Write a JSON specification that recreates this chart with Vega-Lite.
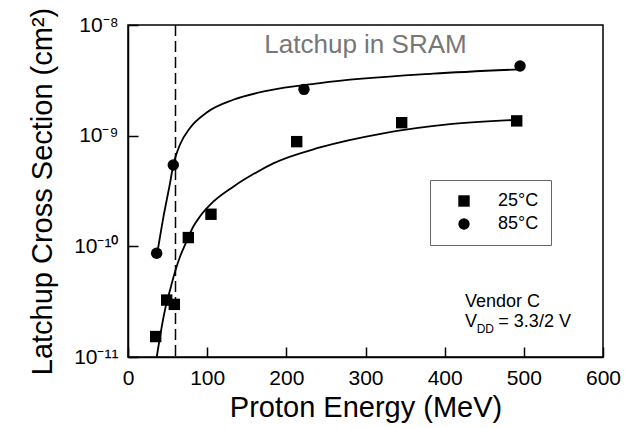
{
  "$schema": "https://vega.github.io/schema/vega-lite/v6.json",
  "width": 475,
  "height": 332,
  "autosize": {"type": "none"},
  "padding": {"left": 128, "top": 25, "right": 30, "bottom": 71},
  "background": "white",
  "config": {
    "font": "Liberation Sans",
    "view": {"stroke": "black", "strokeWidth": 1.5},
    "axis": {
      "domainColor": "black", "domainWidth": 1.5,
      "tickColor": "black", "tickWidth": 1.5, "tickSize": -10,
      "labelColor": "black", "titleColor": "black",
      "labelFont": "Liberation Sans", "titleFont": "Liberation Sans",
      "titleFontWeight": "normal", "grid": false, "labelFlush": false,
      "labelFontSize": 21, "titleFontSize": 29
    }
  },
  "datasets": {
    "points": [
      {"energy": 36.2, "cs": 8.65e-11, "temp": "85°C"},
      {"energy": 57.2, "cs": 5.43e-10, "temp": "85°C"},
      {"energy": 222.3, "cs": 2.62e-9, "temp": "85°C"},
      {"energy": 495.2, "cs": 4.26e-9, "temp": "85°C"},
      {"energy": 35.0, "cs": 1.53e-11, "temp": "25°C"},
      {"energy": 48.9, "cs": 3.27e-11, "temp": "25°C"},
      {"energy": 58.5, "cs": 2.99e-11, "temp": "25°C"},
      {"energy": 76.2, "cs": 1.2e-10, "temp": "25°C"},
      {"energy": 104.8, "cs": 1.95e-10, "temp": "25°C"},
      {"energy": 213.1, "cs": 8.83e-10, "temp": "25°C"},
      {"energy": 345.7, "cs": 1.31e-9, "temp": "25°C"},
      {"energy": 491.0, "cs": 1.36e-9, "temp": "25°C"}
    ],
    "fits": [
      {"energy": 37.0, "cs": 8.71e-11, "series": "85"},
      {"energy": 40.4, "cs": 1.22e-10, "series": "85"},
      {"energy": 44.6, "cs": 1.82e-10, "series": "85"},
      {"energy": 48.9, "cs": 2.62e-10, "series": "85"},
      {"energy": 53.1, "cs": 3.72e-10, "series": "85"},
      {"energy": 57.2, "cs": 5.43e-10, "series": "85"},
      {"energy": 61.0, "cs": 6.76e-10, "series": "85"},
      {"energy": 65.7, "cs": 8.32e-10, "series": "85"},
      {"energy": 78.3, "cs": 1.175e-9, "series": "85"},
      {"energy": 99.4, "cs": 1.62e-9, "series": "85"},
      {"energy": 133.0, "cs": 2.11e-9, "series": "85"},
      {"energy": 175.2, "cs": 2.54e-9, "series": "85"},
      {"energy": 242.5, "cs": 2.99e-9, "series": "85"},
      {"energy": 385.3, "cs": 3.63e-9, "series": "85"},
      {"energy": 495.2, "cs": 3.98e-9, "series": "85"},
      {"energy": 36.3, "cs": 1.0e-11, "series": "25"},
      {"energy": 40.4, "cs": 1.52e-11, "series": "25"},
      {"energy": 46.7, "cs": 2.66e-11, "series": "25"},
      {"energy": 53.1, "cs": 4.03e-11, "series": "25"},
      {"energy": 59.4, "cs": 5.9e-11, "series": "25"},
      {"energy": 65.7, "cs": 8.06e-11, "series": "25"},
      {"energy": 72.0, "cs": 1.03e-10, "series": "25"},
      {"energy": 82.5, "cs": 1.51e-10, "series": "25"},
      {"energy": 90.9, "cs": 1.86e-10, "series": "25"},
      {"energy": 107.7, "cs": 2.53e-10, "series": "25"},
      {"energy": 133.0, "cs": 3.46e-10, "series": "25"},
      {"energy": 162.6, "cs": 4.68e-10, "series": "25"},
      {"energy": 183.5, "cs": 5.62e-10, "series": "25"},
      {"energy": 242.5, "cs": 7.82e-10, "series": "25"},
      {"energy": 322.5, "cs": 1.05e-9, "series": "25"},
      {"energy": 406.7, "cs": 1.27e-9, "series": "25"},
      {"energy": 491.0, "cs": 1.39e-9, "series": "25"}
    ]
  },
  "layer": [
    {
      "data": {"values": [{"energy": 60}]},
      "mark": {"type": "rule", "color": "black", "strokeWidth": 1.5, "strokeDash": [11, 5]},
      "encoding": {
        "x": {"field": "energy", "type": "quantitative", "scale": {"domain": [0, 600], "nice": false}}
      }
    },
    {
      "data": {"name": "fits"},
      "mark": {"type": "line", "color": "black", "strokeWidth": 1.8, "interpolate": "monotone"},
      "encoding": {
        "x": {"field": "energy", "type": "quantitative", "scale": {"domain": [0, 600], "nice": false},
          "axis": {"values": [0, 100, 200, 300, 400, 500, 600], "title": "Proton Energy (MeV)", "labelPadding": 20, "titlePadding": 5}},
        "y": {"field": "cs", "type": "quantitative", "scale": {"type": "log", "domain": [1e-11, 1e-8], "nice": false},
          "axis": {"values": [1e-11, 1e-10, 1e-9, 1e-8], "title": "Latchup Cross Section (cm²)", "labelPadding": 20, "titlePadding": 16,
            "labelExpr": "'10' + (round(log(datum.value)/LN10) == -8 ? '⁻⁸' : round(log(datum.value)/LN10) == -9 ? '⁻⁹' : round(log(datum.value)/LN10) == -10 ? '⁻¹⁰' : '⁻¹¹')"}},
        "detail": {"field": "series"}
      }
    },
    {
      "data": {"name": "points"},
      "mark": {"type": "point", "filled": true, "color": "black", "size": 130, "opacity": 1},
      "encoding": {
        "x": {"field": "energy", "type": "quantitative"},
        "y": {"field": "cs", "type": "quantitative"},
        "shape": {"field": "temp", "type": "nominal",
          "scale": {"domain": ["25°C", "85°C"], "range": ["square", "circle"]},
          "legend": {"title": null, "orient": "none", "legendX": 302, "legendY": 155,
            "strokeColor": "#666", "fillColor": "white", "padding": 12, "symbolOffset": 13,
            "labelFontSize": 18, "labelFont": "Liberation Sans", "labelColor": "black",
            "symbolFillColor": "black", "symbolStrokeColor": "black", "symbolSize": 130,
            "labelOffset": 25, "rowPadding": 5}}
      }
    },
    {
      "data": {"values": [{"energy": 300, "cs": 5.55e-9, "label": "Latchup in SRAM"}]},
      "mark": {"type": "text", "fontSize": 26, "color": "#777", "align": "center", "baseline": "alphabetic"},
      "encoding": {
        "x": {"field": "energy", "type": "quantitative"},
        "y": {"field": "cs", "type": "quantitative"},
        "text": {"field": "label"}
      }
    },
    {
      "data": {"values": [
        {"energy": 425.7, "cs": 2.85e-11, "label": "Vendor C"},
        {"energy": 425.7, "cs": 1.88e-11, "label": "V"},
        {"energy": 467.8, "cs": 1.88e-11, "label": "= 3.3/2 V"}
      ]},
      "mark": {"type": "text", "fontSize": 18, "color": "black", "align": "left", "baseline": "alphabetic"},
      "encoding": {
        "x": {"field": "energy", "type": "quantitative"},
        "y": {"field": "cs", "type": "quantitative"},
        "text": {"field": "label"}
      }
    },
    {
      "data": {"values": [{"energy": 440.4, "cs": 1.64e-11, "label": "DD"}]},
      "mark": {"type": "text", "fontSize": 12, "color": "black", "align": "left", "baseline": "alphabetic"},
      "encoding": {
        "x": {"field": "energy", "type": "quantitative"},
        "y": {"field": "cs", "type": "quantitative"},
        "text": {"field": "label"}
      }
    }
  ]
}
